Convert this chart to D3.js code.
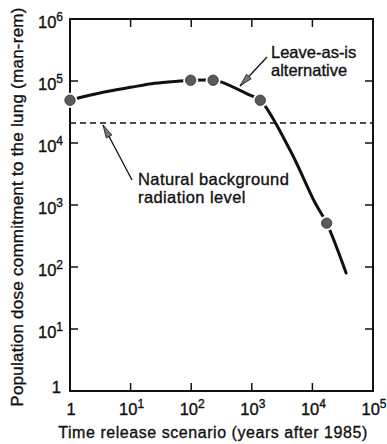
<!DOCTYPE html>
<html>
<head>
<meta charset="utf-8">
<script src="https://cdn.jsdelivr.net/npm/d3@7"></script>
<style>
body { margin: 0; background: #fff; }
text { font-family: "Liberation Sans", Arial, sans-serif; fill: #111; stroke: #111; stroke-width: 0.35px; }
</style>
</head>
<body>
<div id="chart"></div>
<script>
// curve of the leave-as-is alternative (years, man-rem)
var curveX = [1, 3.1, 10, 25, 65, 98, 230, 318, 935, 1380, 4270, 11000, 17200, 36000];
var curveY = [49000, 64000, 79000, 92000, 100000, 103000, 103000, 96000, 59000, 49000, 7700, 1100, 510, 80];
// plotted points
var pointX = [1, 98, 230, 1380, 17200];
var pointY = [49000, 103000, 103000, 49000, 510];
var background = 21000;
var xTicks = [1, 10, 100, 1000, 10000, 100000];
var yTicks = [1, 10, 100, 1000, 10000, 100000, 1000000];

var width = 387, height = 444;
var margin = {top: 19, right: 14, bottom: 53, left: 70};

var x = d3.scaleLog().domain([1, 1e5]).range([margin.left, width - margin.right]);
var y = d3.scaleLog().domain([1, 1e6]).range([height - margin.bottom, margin.top]);

var svg = d3.select("#chart").append("svg")
    .attr("width", width)
    .attr("height", height);

function expo(v) { return Math.round(Math.log10(v)); }

// frame
svg.append("rect")
    .attr("x", x(1)).attr("y", y(1e6))
    .attr("width", x(1e5) - x(1)).attr("height", y(1) - y(1e6))
    .style("fill", "none").style("stroke", "#111").style("stroke-width", 2);

var tl = 8;
// ticks on all four sides, pointing inward
xTicks.slice(1, -1).forEach(function(t) {
    svg.append("line").attr("x1", x(t)).attr("x2", x(t))
        .attr("y1", y(1)).attr("y2", y(1) - tl)
        .style("stroke", "#111").style("stroke-width", 1.5);
    svg.append("line").attr("x1", x(t)).attr("x2", x(t))
        .attr("y1", y(1e6)).attr("y2", y(1e6) + tl)
        .style("stroke", "#111").style("stroke-width", 1.5);
});
yTicks.slice(1, -1).forEach(function(t) {
    svg.append("line").attr("x1", x(1)).attr("x2", x(1) + tl)
        .attr("y1", y(t)).attr("y2", y(t))
        .style("stroke", "#111").style("stroke-width", 1.5);
    svg.append("line").attr("x1", x(1e5)).attr("x2", x(1e5) - tl)
        .attr("y1", y(t)).attr("y2", y(t))
        .style("stroke", "#111").style("stroke-width", 1.5);
});

// tick labels
function powLabel(sel, v) {
    if (v === 1) { sel.text("1"); return; }
    sel.append("tspan").text("10");
    sel.append("tspan").attr("dy", -7).style("font-size", "12px").text(expo(v));
}
xTicks.forEach(function(t) {
    var tx = svg.append("text")
        .attr("x", x(t) + 1).attr("y", 415)
        .attr("text-anchor", "middle")
        .style("font-size", "16.5px");
    powLabel(tx, t);
});
yTicks.forEach(function(t) {
    var tx = svg.append("text")
        .attr("x", t === 1 ? 61 : 63).attr("y", y(t) + (t === 1 ? 2 : 9))
        .attr("text-anchor", "end")
        .style("font-size", "16.5px");
    powLabel(tx, t);
});

// axis titles
svg.append("text")
    .attr("x", 213).attr("y", 438)
    .attr("text-anchor", "middle")
    .style("font-size", "16px")
    .style("letter-spacing", "0.55px")
    .text("Time release scenario (years after 1985)");
svg.append("text")
    .attr("transform", "translate(23," + 207 + ") rotate(-90)")
    .attr("text-anchor", "middle")
    .style("font-size", "17px")
    .style("letter-spacing", "0.25px")
    .text("Population dose commitment to the lung (man-rem)");

// background level
svg.append("line")
    .attr("x1", x(1)).attr("x2", x(1e5))
    .attr("y1", y(background)).attr("y2", y(background))
    .style("stroke", "#111").style("stroke-width", 1.6)
    .style("stroke-dasharray", "6,4");

// curve
var line = d3.line()
    .x(function(d) { return x(d[0]); })
    .y(function(d) { return y(d[1]); })
    .curve(d3.curveCatmullRom);
svg.append("path")
    .datum(d3.zip(curveX, curveY))
    .attr("d", line)
    .style("fill", "none").style("stroke", "#111").style("stroke-width", 3)
    .style("stroke-linecap", "round");

// white halo so the line breaks around each point
svg.selectAll(".halo").data(d3.zip(pointX, pointY))
    .enter().append("circle")
    .attr("class", "halo")
    .attr("cx", function(d) { return x(d[0]); })
    .attr("cy", function(d) { return y(d[1]); })
    .attr("r", 7.5)
    .style("fill", "#fff");
svg.selectAll(".pt").data(d3.zip(pointX, pointY))
    .enter().append("circle")
    .attr("class", "pt")
    .attr("cx", function(d) { return x(d[0]); })
    .attr("cy", function(d) { return y(d[1]); })
    .attr("r", 5.2)
    .style("fill", "#5a5a5a")
    .style("stroke", "#333").style("stroke-width", 0.8);

// annotation arrows
function arrow(x1, y1, x2, y2) {
    svg.append("line").attr("x1", x1).attr("y1", y1).attr("x2", x2).attr("y2", y2)
        .style("stroke", "#111").style("stroke-width", 1.3);
    var a = Math.atan2(y2 - y1, x2 - x1), len = 13, w = 3.2;
    var bx = x2 - len * Math.cos(a), by = y2 - len * Math.sin(a);
    var px = -Math.sin(a) * w, py = Math.cos(a) * w;
    svg.append("path")
        .attr("d", "M" + x2 + "," + y2 + "L" + (bx + px) + "," + (by + py) + "L" + (bx - px) + "," + (by - py) + "Z")
        .style("fill", "#777").style("stroke", "#111").style("stroke-width", 0.8);
}
arrow(267, 57, 240, 86);
arrow(132, 180, 103, 125);

svg.append("text").attr("x", 271).attr("y", 58).style("font-size", "16.5px").text("Leave-as-is");
svg.append("text").attr("x", 271).attr("y", 76).style("font-size", "16.5px").text("alternative");
svg.append("text").attr("x", 138).attr("y", 185).style("font-size", "16.5px").style("letter-spacing", "0.4px").text("Natural background");
svg.append("text").attr("x", 138).attr("y", 203).style("font-size", "16.5px").style("letter-spacing", "0.4px").text("radiation level");
</script>
</body>
</html>
